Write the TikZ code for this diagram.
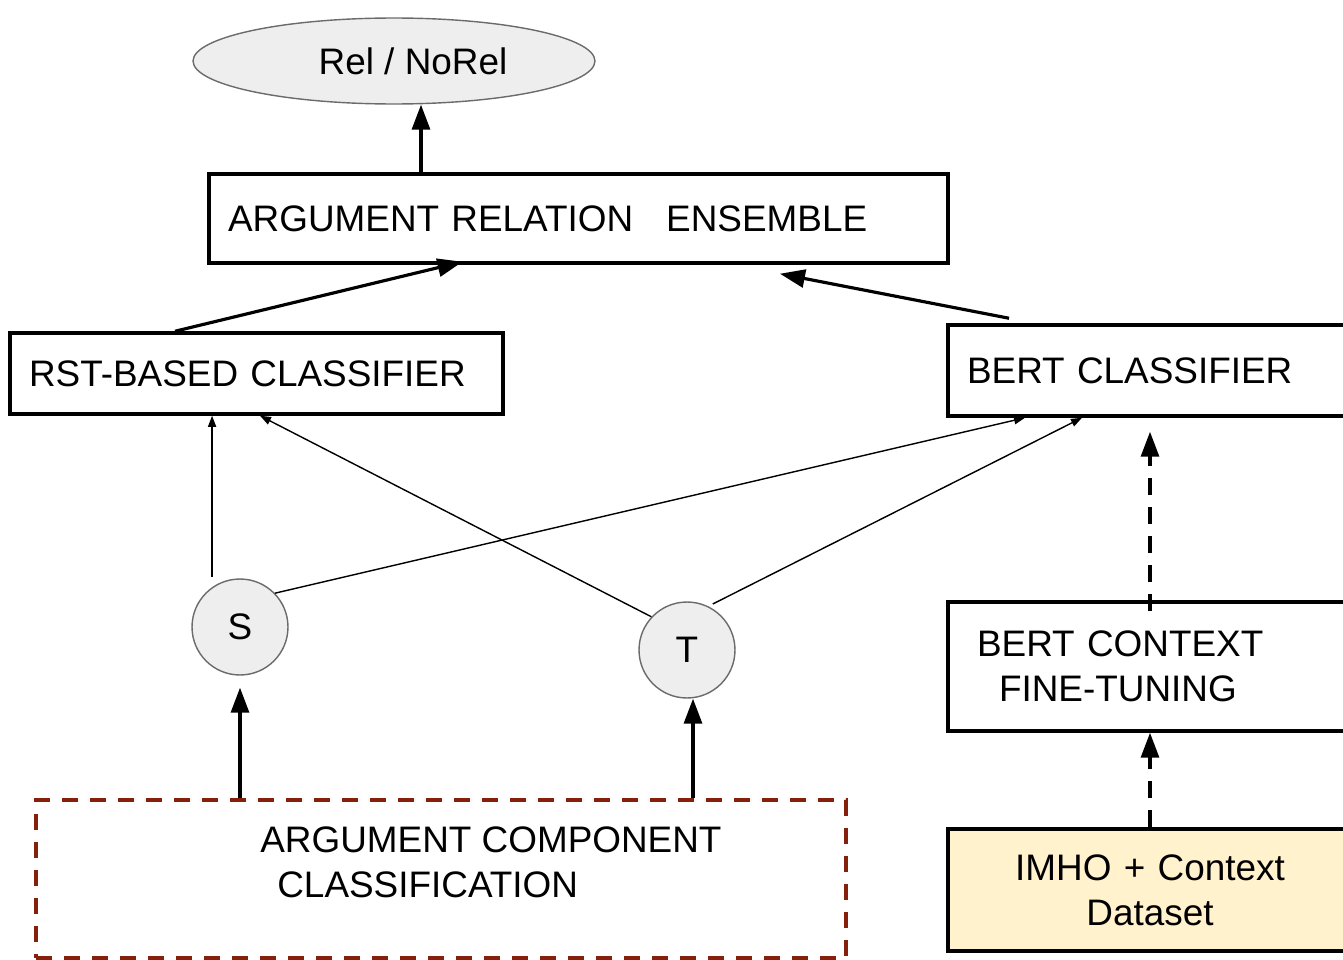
\documentclass[tikz,border=0pt]{standalone}
\usepackage{fontspec}
\setmainfont{Liberation Sans}
\usetikzlibrary{arrows.meta,positioning,calc,shapes.geometric}
\definecolor{nodegray}{HTML}{EEEEEE}
\definecolor{rimgray}{HTML}{6B6B6B}
\definecolor{berry}{HTML}{85200C}
\definecolor{dataylw}{HTML}{FFF2CC}

\begin{document}
\begin{tikzpicture}[x=0.02cm,y=-0.02cm,font=\fontsize{21}{25.5}\selectfont,
  box/.style={draw,line width=2pt,align=left,inner xsep=0.38cm,inner ysep=0pt},
  unit/.style={circle,draw=rimgray,fill=nodegray,line width=0.8pt,minimum size=1.92cm,inner sep=0pt},
  fat/.style={line width=1.8pt,-{Triangle[length=0.5cm,width=0.36cm]}},
  link/.style={line width=0.8pt,-{Triangle[length=0.22cm,width=0.16cm]}},
  dash arrow/.style={fat,dash pattern=on 0.34cm off 0.24cm}]
\clip (0,0) rectangle (1343,960);

% output and ensemble
\node[ellipse,draw=rimgray,fill=nodegray,line width=0.8pt,minimum width=8.04cm,minimum height=1.72cm,inner sep=0pt] (rel) at (394,61) {\hspace*{0.76cm}Rel / NoRel};
\node[box,text width=14.02cm,minimum height=1.78cm] (ens) at (578.5,218.5) {ARGUMENT RELATION\hspace{0.66cm}ENSEMBLE};

% classifiers
\node[box,text width=9.10cm,minimum height=1.62cm] (rst) at (256.5,373.5) {RST-BASED CLASSIFIER};
\node[box,text width=7.32cm,minimum height=1.82cm] (bert) at (1150,370.5) {BERT CLASSIFIER};
\node[box,text width=7.32cm,minimum height=2.58cm] (tune) at (1150,666.5) {\hspace*{0.2cm}BERT CONTEXT\\\hspace*{0.64cm}FINE-TUNING};
\node[box,fill=dataylw,text width=7.32cm,minimum height=2.44cm,align=center] (imho) at (1150,890) {IMHO + Context\\Dataset};

% source / target
\node[unit] (s) at (240,627) {S};
\node[unit] (t) at (687,650) {T};
\node[draw=berry,line width=1.9pt,dash pattern=on 0.32cm off 0.24cm,minimum width=16.2cm,minimum height=3.16cm] (acc) at (441,879) {};
\node[anchor=west,align=left,inner sep=0pt] (acctext) at (260,862) {ARGUMENT COMPONENT\\\hspace*{0.34cm}CLASSIFICATION};

\draw[fat] ([xshift=0.54cm]rel.south |- ens.north) -- ([xshift=0.54cm]rel.south);
\draw[fat] ([xshift=-1.63cm]rst.north) -- ([xshift=-2.32cm,yshift=0.06cm]ens.south);
\draw[fat] ([xshift=-2.82cm,yshift=0.1cm]bert.north) -- ([xshift=4.03cm,yshift=-0.18cm]ens.south);

\draw[link,shorten <=0.2cm] (s.125) -- (s.125 |- rst.south);
\draw[link] (s.44) -- ([xshift=-2.5cm]bert.south);
\draw[link] (t.137) -- ([xshift=0.07cm]rst.south);
\draw[link,shorten <=0.1cm] (t.64) -- ([xshift=-1.36cm]bert.south);

\draw[fat,shorten >=0.24cm] (s.south |- acc.north) -- (s.south);
\draw[fat] ([xshift=0.12cm]t.south |- acc.north) -- ([xshift=0.12cm]t.south);

\draw[dash arrow] (imho.north) -- (tune.south);
\draw[dash arrow,shorten >=0.28cm] ([yshift=-0.22cm]tune.north) -- (bert.south);
\end{tikzpicture}
\end{document}
